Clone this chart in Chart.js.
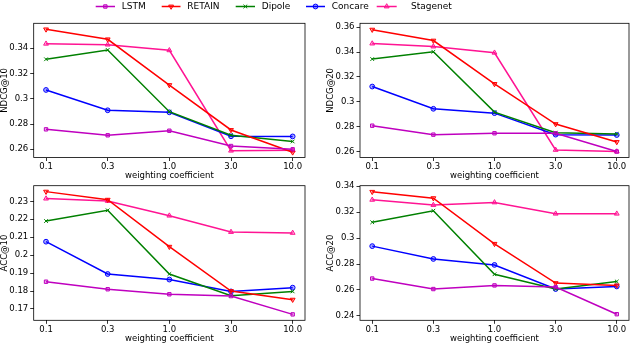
<!DOCTYPE html>
<html><head><meta charset="utf-8">
<script src="https://cdn.jsdelivr.net/npm/chart.js@4/dist/chart.umd.min.js"></script>
<style>
html,body{margin:0;padding:0;background:#fff;width:634px;height:344px;overflow:hidden;}
canvas{position:absolute;left:0;top:0;}
</style></head><body>
<canvas id="c0" width="634" height="344"></canvas>
<canvas id="c1" width="634" height="344"></canvas>
<canvas id="c2" width="634" height="344"></canvas>
<canvas id="c3" width="634" height="344"></canvas>
<script>
// ---- data ----
const categories = ['0.1', '0.3', '1.0', '3.0', '10.0'];
const seriesNames = ['LSTM', 'RETAIN', 'Dipole', 'Concare', 'Stagenet'];

// NDCG@10
const ndcg10_LSTM     = [0.2758, 0.2711, 0.2747, 0.2626, 0.2600];
const ndcg10_RETAIN   = [0.3550, 0.3471, 0.3109, 0.2753, 0.2576];
const ndcg10_Dipole   = [0.3313, 0.3387, 0.2898, 0.2712, 0.2662];
const ndcg10_Concare  = [0.3070, 0.2909, 0.2893, 0.2703, 0.2702];
const ndcg10_Stagenet = [0.3436, 0.3429, 0.3384, 0.2589, 0.2592];

// NDCG@20
const ndcg20_LSTM     = [0.2808, 0.2736, 0.2747, 0.2747, 0.2600];
const ndcg20_RETAIN   = [0.3581, 0.3493, 0.3144, 0.2821, 0.2677];
const ndcg20_Dipole   = [0.3344, 0.3403, 0.2917, 0.2752, 0.2741];
const ndcg20_Concare  = [0.3123, 0.2944, 0.2909, 0.2736, 0.2733];
const ndcg20_Stagenet = [0.3469, 0.3445, 0.3395, 0.2613, 0.2600];

// ACC@10
const acc10_LSTM     = [0.1852, 0.1810, 0.1782, 0.1772, 0.1670];
const acc10_RETAIN   = [0.2354, 0.2309, 0.2047, 0.1800, 0.1752];
const acc10_Dipole   = [0.2190, 0.2250, 0.1895, 0.1774, 0.1798];
const acc10_Concare  = [0.2075, 0.1895, 0.1864, 0.1798, 0.1819];
const acc10_Stagenet = [0.2315, 0.2302, 0.2220, 0.2129, 0.2124];

// ACC@20
const acc20_LSTM     = [0.2688, 0.2607, 0.2635, 0.2622, 0.2413];
const acc20_RETAIN   = [0.3357, 0.3308, 0.2956, 0.2653, 0.2635];
const acc20_Dipole   = [0.3122, 0.3211, 0.2721, 0.2607, 0.2665];
const acc20_Concare  = [0.2938, 0.2839, 0.2793, 0.2607, 0.2627];
const acc20_Stagenet = [0.3295, 0.3255, 0.3275, 0.3188, 0.3188];

// y tick values and labels
const ticksNdcg10 = [0.26, 0.28, 0.30, 0.32, 0.34];
const labelsNdcg10 = ['0.26', '0.28', '0.3', '0.32', '0.34'];
const ticksNdcg20 = [0.26, 0.28, 0.30, 0.32, 0.34, 0.36];
const labelsNdcg20 = ['0.26', '0.28', '0.3', '0.32', '0.34', '0.36'];
const ticksAcc10 = [0.17, 0.18, 0.19, 0.20, 0.21, 0.22, 0.23];
const labelsAcc10 = ['0.17', '0.18', '0.19', '0.2', '0.21', '0.22', '0.23'];
const ticksAcc20 = [0.24, 0.26, 0.28, 0.30, 0.32, 0.34];
const labelsAcc20 = ['0.24', '0.26', '0.28', '0.3', '0.32', '0.34'];

// ---- styles ----
const FONT = 'DejaVu Sans';
const FS = 8.5;
const colors = ['#bf00bf', '#ff0000', '#008000', '#0000ff', '#ff1493'];
const fills = ['rgba(191,0,191,0.35)', 'rgba(255,0,0,0.35)', 'rgba(0,128,0,0.35)', 'rgba(0,0,255,0.35)', 'rgba(255,20,147,0.35)'];
const pstyles = ['rect', 'triangle', 'crossRot', 'circle', 'triangle'];
const protate = [0, 180, 0, 0, 0];
const pradius = [2.4, 2.8, 2.6, 2.4, 2.8];

const panels = [
  {id: 'c0', title: 'NDCG@10', series: [ndcg10_LSTM, ndcg10_RETAIN, ndcg10_Dipole, ndcg10_Concare, ndcg10_Stagenet],
   ticks: ticksNdcg10, labels: labelsNdcg10, min: 0.2535, max: 0.3598,
   box: {l: 33.7, t: 23.3, r: 305, b: 157.5}, legend: true},
  {id: 'c1', title: 'NDCG@20', series: [ndcg20_LSTM, ndcg20_RETAIN, ndcg20_Dipole, ndcg20_Concare, ndcg20_Stagenet],
   ticks: ticksNdcg20, labels: labelsNdcg20, min: 0.2552, max: 0.3632,
   box: {l: 360, t: 23.3, r: 633.2, b: 157.5}},
  {id: 'c2', title: 'ACC@10', series: [acc10_LSTM, acc10_RETAIN, acc10_Dipole, acc10_Concare, acc10_Stagenet],
   ticks: ticksAcc10, labels: labelsAcc10, min: 0.1637, max: 0.2387,
   box: {l: 33.7, t: 185.7, r: 305, b: 320.3}},
  {id: 'c3', title: 'ACC@20', series: [acc20_LSTM, acc20_RETAIN, acc20_Dipole, acc20_Concare, acc20_Stagenet],
   ticks: ticksAcc20, labels: labelsAcc20, min: 0.2366, max: 0.3404,
   box: {l: 360, t: 185.7, r: 633.2, b: 320.3}}
];

const YW = 34;   // y axis width
const XH = 23.5; // x axis height

const boxPlugin = {
  id: 'box',
  afterDraw(chart) {
    const a = chart.chartArea, ctx = chart.ctx;
    ctx.save();
    ctx.strokeStyle = '#000';
    ctx.lineWidth = 0.8;
    ctx.strokeRect(a.left, a.top, a.right - a.left, a.bottom - a.top);
    ctx.restore();
  }
};

const legendItems = [
  {x0: 95.7, x1: 115, tx: 121.7},
  {x0: 161.7, x1: 180.5, tx: 187.3},
  {x0: 235.7, x1: 255, tx: 261.7},
  {x0: 306, x1: 325, tx: 331.7},
  {x0: 376.7, x1: 396.7, tx: 411}
];

const legendPlugin = {
  id: 'toplegend',
  afterDraw(chart) {
    if (!chart.options.plugins.toplegend || !chart.options.plugins.toplegend.show) return;
    const ctx = chart.ctx;
    const y = 6.5;
    ctx.save();
    legendItems.forEach((it, i) => {
      ctx.strokeStyle = colors[i];
      ctx.lineWidth = 1.5;
      ctx.beginPath();
      ctx.moveTo(it.x0, y);
      ctx.lineTo(it.x1, y);
      ctx.stroke();
      Chart.helpers.drawPoint(ctx, {
        pointStyle: pstyles[i], radius: pradius[i], rotation: protate[i],
        borderWidth: 1
      }, (it.x0 + it.x1) / 2, y);
      ctx.fillStyle = '#000';
      ctx.font = (FS + 0.5) + 'px "' + FONT + '"';
      ctx.textBaseline = 'middle';
      ctx.textAlign = 'left';
      ctx.fillText(seriesNames[i], it.tx, y + 0.5);
    });
    ctx.restore();
  }
};
// fix drawPoint colours for legend (set on ctx before call)
const _dp = Chart.helpers.drawPoint;

panels.forEach(p => {
  const datasets = p.series.map((vals, i) => ({
    label: seriesNames[i],
    data: vals.map((v, k) => ({x: k, y: v})),
    borderColor: colors[i],
    backgroundColor: fills[i],
    borderWidth: 1.5,
    pointStyle: pstyles[i],
    pointRotation: protate[i],
    pointRadius: pradius[i],
    pointBorderWidth: 1,
    pointBackgroundColor: fills[i],
    pointBorderColor: colors[i],
    tension: 0,
    fill: false
  }));
  new Chart(document.getElementById(p.id), {
    type: 'line',
    data: {datasets},
    options: {
      responsive: false,
      animation: false,
      events: [],
      layout: {padding: {left: p.box.l - YW, top: p.box.t, right: 634 - p.box.r, bottom: 344 - p.box.b - XH}},
      plugins: {legend: {display: false}, tooltip: {enabled: false}, toplegend: {show: !!p.legend}},
      scales: {
        x: {
          type: 'linear', min: -0.2, max: 4.2,
          afterBuildTicks: ax => { ax.ticks = categories.map((c, k) => ({value: k})); },
          afterFit: ax => { ax.height = XH; },
          ticks: {callback: v => categories[Math.round(v)], color: '#000', font: {family: FONT, size: FS}, padding: 1, maxRotation: 0, autoSkip: false},
          grid: {drawOnChartArea: false, drawTicks: true, tickLength: 3.5, tickColor: '#000', tickWidth: 0.8},
          border: {display: false},
          title: {display: true, text: 'weighting coefficient', color: '#000', font: {family: FONT, size: FS}, padding: {top: 0, bottom: 0}}
        },
        y: {
          type: 'linear', min: p.min, max: p.max,
          afterBuildTicks: ax => { ax.ticks = p.ticks.map(v => ({value: v})); },
          afterFit: ax => { ax.width = YW; },
          ticks: {callback: (v, idx) => p.labels[idx], color: '#000', font: {family: FONT, size: FS}, padding: 2, autoSkip: false},
          grid: {drawOnChartArea: false, drawTicks: true, tickLength: 3.5, tickColor: '#000', tickWidth: 0.8},
          border: {display: false},
          title: {display: true, text: p.title, color: '#000', font: {family: FONT, size: FS}, padding: {top: 0, bottom: 0}}
        }
      }
    },
    plugins: [boxPlugin, {
      id: 'legendwrap',
      afterDraw(chart) {
        if (!p.legend) return;
        const ctx = chart.ctx;
        const y = 6.5;
        ctx.save();
        legendItems.forEach((it, i) => {
          ctx.strokeStyle = colors[i];
          ctx.lineWidth = 1.5;
          ctx.beginPath();
          ctx.moveTo(it.x0, y);
          ctx.lineTo(it.x1, y);
          ctx.stroke();
          ctx.fillStyle = fills[i];
          ctx.strokeStyle = colors[i];
          ctx.lineWidth = 1;
          _dp(ctx, {pointStyle: pstyles[i], radius: pradius[i], rotation: protate[i], borderWidth: 1}, (it.x0 + it.x1) / 2, y);
          ctx.fillStyle = '#000';
          ctx.font = (FS + 0.5) + 'px "' + FONT + '"';
          ctx.textBaseline = 'middle';
          ctx.textAlign = 'left';
          ctx.fillText(seriesNames[i], it.tx, y + 0.5);
        });
        ctx.restore();
      }
    }]
  });
});
</script>
</body></html>
